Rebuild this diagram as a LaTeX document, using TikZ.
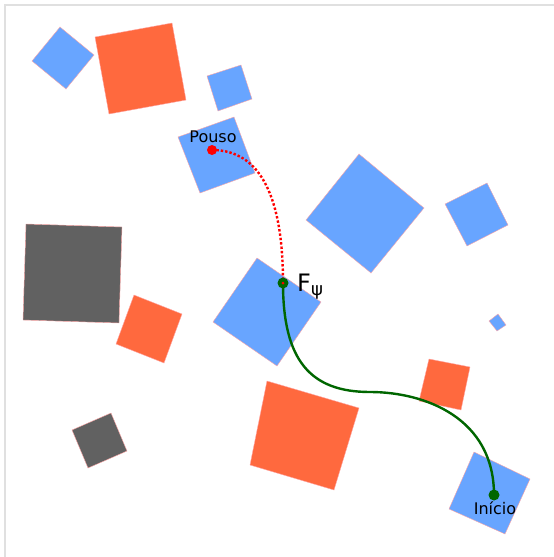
\documentclass[tikz,border=0pt]{standalone}
\usepackage{fontspec}
\setmainfont{DejaVu Sans}
\definecolor{obsblue}{RGB}{104,165,255}
\definecolor{obsorange}{RGB}{255,105,62}
\definecolor{obsgray}{RGB}{97,97,97}
\definecolor{pathgreen}{RGB}{0,102,0}
\begin{document}
\begin{tikzpicture}[x=1pt, y=-1pt,
    blueblk/.style={fill=obsblue, draw=red!35, line width=0.4pt},
    orangeblk/.style={fill=obsorange, draw=red!35, line width=0.4pt},
    grayblk/.style={fill=obsgray, draw=red!35, line width=0.4pt},
    waypt/.style={circle, inner sep=0pt, minimum size=#1},
    lbl/.style={anchor=base, font=\fontsize{16}{16}\selectfont}]

  \useasboundingbox (0,0) rectangle (554,557);

  %===== Frame =====%
  \draw[black!12, line width=1.5pt] (5,557) -- (5,5) -- (554,5);

  %===== Blue obstacles =====%
  \draw[blueblk] (60,27) -- (94,55) -- (66,89) -- (32,61) -- cycle;
  \draw[blueblk] (207,76) -- (241,65) -- (252,99) -- (218,111) -- cycle;
  \draw[blueblk] (178,137) -- (234,117) -- (255,173) -- (200,193) -- cycle;
  \draw[blueblk] (359,154) -- (424,208) -- (371,273) -- (306,220) -- cycle;
  \draw[blueblk] (445,204) -- (487,183) -- (508,225) -- (467,246) -- cycle;
  \draw[blueblk] (257,258) -- (321,302) -- (277,366) -- (213,322) -- cycle;
  \draw[blueblk] (498,314) -- (506,325) -- (497,331) -- (489,321) -- cycle;
  \draw[blueblk] (474,452) -- (530,479) -- (505,534) -- (449,509) -- cycle;

  %===== Orange obstacles =====%
  \draw[orangeblk] (95,37) -- (172,23) -- (186,100) -- (109,114) -- cycle;
  \draw[orangeblk] (134,295) -- (182,314) -- (164,363) -- (116,344) -- cycle;
  \draw[orangeblk] (267,381) -- (359,408) -- (334,490) -- (250,465) -- cycle;
  \draw[orangeblk] (429,359) -- (470,367) -- (461,410) -- (419,401) -- cycle;

  %===== Gray obstacles =====%
  \draw[grayblk] (26,224) -- (122,227) -- (119,323) -- (23,320) -- cycle;
  \draw[grayblk] (72,430) -- (111,413) -- (127,451) -- (88,468) -- cycle;

  %===== Paths =====%
  \coordinate (pouso) at (212,150);
  \coordinate (fpsi) at (283,283);
  \coordinate (inicio) at (494,495);

  % landing leg, dotted
  \draw[red, dotted, line width=2.4pt]
    (pouso) .. controls (262,150) and (283,200) .. (fpsi);
  % take-off leg
  \draw[pathgreen, line width=2.4pt]
    (fpsi) .. controls (283,360) and (310,392) .. (370,392)
           .. controls (425,392) and (494,418) .. (inicio);

  %===== Waypoints and labels =====%
  \node[waypt=10pt, fill=red] (pousodot) at (pouso) {};
  \node[waypt=11pt, fill=pathgreen] (fpsidot) at (fpsi) {};
  \node[waypt=3pt, fill=red] at (fpsi) {};
  \node[waypt=11pt, fill=pathgreen] (iniciodot) at (inicio) {};

  \node[lbl] (pousolbl) at (213,142) {Pouso};
  \node[lbl] (iniciolbl) at (495,514) {Início};
  \node[anchor=base west, inner sep=0pt, font=\fontsize{24}{24}\selectfont]
    (fpsilbl) at (297,291) {F\raisebox{-4pt}{\fontsize{18}{18}\selectfont ψ}};
\end{tikzpicture}
\end{document}
